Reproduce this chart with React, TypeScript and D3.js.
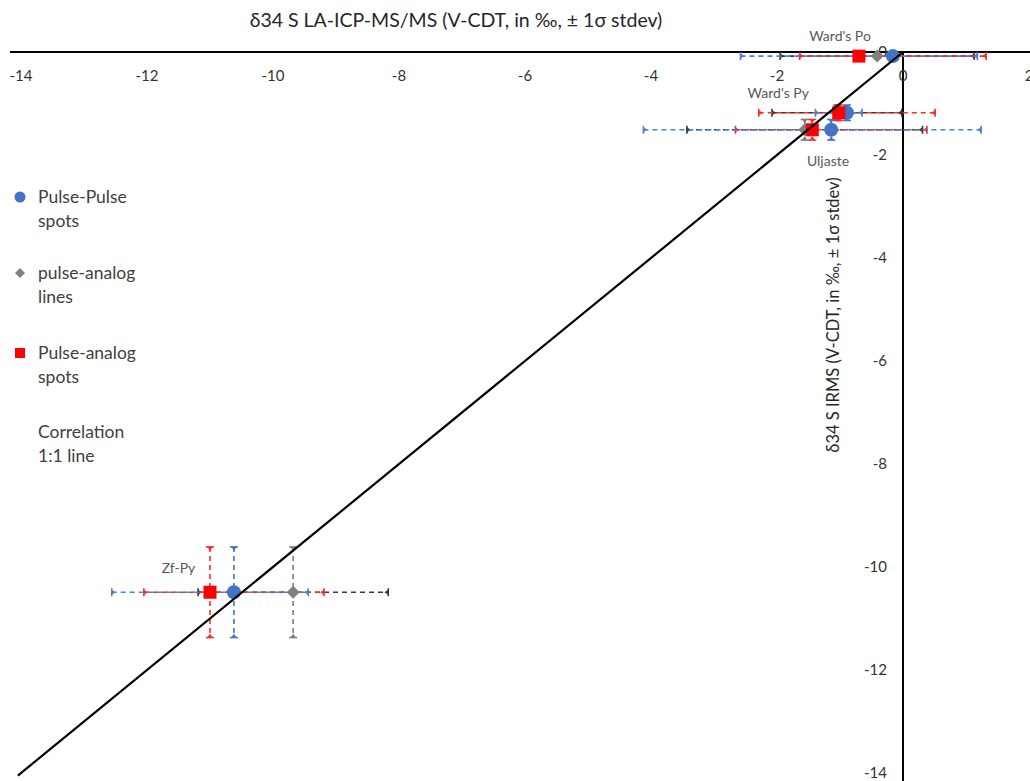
import React from "react";
import * as d3 from "d3";

const samples = ["Ward's Po", "Ward's Py", "Uljaste", "Zf-Py"];
const irms = [-0.08, -1.18, -1.51, -10.49];
const irmsErr = [0, 0.15, 0.2, 0.88];

const pulsePulseSpots = [-0.16, -0.89, -1.14, -10.62];
const pulsePulseErr = [1.48, 1.4, 1.52, 1.43];

const pulseAnalogLines = [-0.41, -1.05, -1.56, -9.68];
const pulseAnalogLinesErr = [1.54, 1.03, 1.87, 1.51];

const pulseAnalogSpots = [-0.7, -1.02, -1.44, -11.0];
const pulseAnalogSpotsErr = [1.88, 0.37, 2.68, 1.56];

const xTicks = [-14, -12, -10, -8, -6, -4, -2, 0, 2];
const yTicks = [-2, -4, -6, -8, -10, -12, -14];

// sample label anchors (data units)
const labelX = [-1.0, -1.98, -1.19, -11.5];
const labelY = [0.22, -0.89, -2.22, -10.12];

const W = 1030;
const H = 781;
const FONT = "Lato, 'Open Sans', sans-serif";

export default function App() {
  const x = d3.scaleLinear().domain([-14, 2]).range([21, 1029]);
  const y = d3.scaleLinear().domain([0, -14]).range([52, 773]);

  const series = [
    { name: "pulse-analog lines", vals: pulseAnalogLines, err: pulseAnalogLinesErr, errColor: "#3a3a3a", vColor: "#7f7f7f", shape: "diamond", color: "#808080" },
    { name: "Pulse-Pulse spots", vals: pulsePulseSpots, err: pulsePulseErr, errColor: "#ff2a2a", vColor: "#4472c4", shape: "circle", color: "#4472c4" },
    { name: "Pulse-analog spots", vals: pulseAnalogSpots, err: pulseAnalogSpotsErr, errColor: "#4f7fd0", vColor: "#ff2a2a", shape: "square", color: "#ff0000" },
  ];

  const cap = 4;
  const errBars: React.ReactNode[] = [];
  series.forEach((s, si) => {
    s.vals.forEach((v, i) => {
      const cy = y(irms[i]);
      const x0 = x(v - s.err[i]);
      const x1 = x(v + s.err[i]);
      errBars.push(
        <g key={`h${si}-${i}`} stroke={s.errColor} strokeWidth={1.6} fill={s.errColor}>
          <line x1={x0} x2={x1} y1={cy} y2={cy} strokeDasharray="5,4" />
          <line x1={x0} x2={x0} y1={cy - cap} y2={cy + cap} />
          <line x1={x1} x2={x1} y1={cy - cap} y2={cy + cap} />
          <path d={`M${x0},${cy - 2.5}L${x0 + 4},${cy}L${x0},${cy + 2.5}Z`} stroke="none" />
          <path d={`M${x1},${cy - 2.5}L${x1 - 4},${cy}L${x1},${cy + 2.5}Z`} stroke="none" />
        </g>
      );
      if (irmsErr[i] > 0) {
        const cx = x(v);
        const y0 = y(irms[i] + irmsErr[i]);
        const y1 = y(irms[i] - irmsErr[i]);
        errBars.push(
          <g key={`v${si}-${i}`} stroke={s.vColor} strokeWidth={1.6} fill={s.vColor}>
            <line x1={cx} x2={cx} y1={y0} y2={y1} strokeDasharray="5,4" />
            <line x1={cx - cap} x2={cx + cap} y1={y0} y2={y0} />
            <line x1={cx - cap} x2={cx + cap} y1={y1} y2={y1} />
            <path d={`M${cx - 2.5},${y0}L${cx},${y0 + 4}L${cx + 2.5},${y0}Z`} stroke="none" />
            <path d={`M${cx - 2.5},${y1}L${cx},${y1 - 4}L${cx + 2.5},${y1}Z`} stroke="none" />
          </g>
        );
      }
    });
  });

  const marker = (shape: string, color: string, cx: number, cy: number, size: number, key: string) => {
    if (shape === "circle") return <circle key={key} cx={cx} cy={cy} r={size / 2} fill={color} />;
    if (shape === "square")
      return <rect key={key} x={cx - size / 2} y={cy - size / 2} width={size} height={size} fill={color} />;
    const h = size / 2;
    return <path key={key} d={`M${cx},${cy - h}L${cx + h},${cy}L${cx},${cy + h}L${cx - h},${cy}Z`} fill={color} />;
  };

  const markers: React.ReactNode[] = [];
  series.forEach((s, si) => {
    s.vals.forEach((v, i) => {
      const size = s.shape === "circle" ? 14 : 13;
      markers.push(marker(s.shape, s.color, x(v), y(irms[i]), size, `m${si}-${i}`));
    });
  });

  const lineGen = d3.line<number>().x((d) => x(d)).y((d) => y(d));

  const legend = [
    { shape: "circle", color: "#4472c4", l1: "Pulse-Pulse", l2: "spots", y: 197 },
    { shape: "diamond", color: "#808080", l1: "pulse-analog", l2: "lines", y: 273 },
    { shape: "square", color: "#ff0000", l1: "Pulse-analog", l2: "spots", y: 353 },
    { shape: "none", color: "", l1: "Correlation", l2: "1:1 line", y: 432 },
  ];

  return (
    <svg width={W} height={H} style={{ position: "absolute", left: 0, top: 0, background: "#fff" }} fontFamily={FONT}>
      <rect width={W} height={H} fill="#fff" />
      <text x={456} y={27} fontSize={19.5} textAnchor="middle" fill="#262626">
        δ34 S LA-ICP-MS/MS (V-CDT, in ‰, ± 1σ stdev)
      </text>
      <text transform={`translate(839,315) rotate(-90)`} fontSize={16.5} textAnchor="middle" fill="#262626">
        δ34 S IRMS (V-CDT, in ‰, ± 1σ stdev)
      </text>

      {/* axes */}
      <line x1={10} x2={W} y1={y(0)} y2={y(0)} stroke="#000" strokeWidth={2} />
      <line x1={x(0)} x2={x(0)} y1={y(0)} y2={H} stroke="#000" strokeWidth={2} />
      {xTicks.map((t) => (
        <text key={`xt${t}`} x={x(t)} y={y(0) + 29} fontSize={15} textAnchor="middle" fill="#333">
          {t}
        </text>
      ))}
      <text x={x(0) - 16} y={y(0)} dy="0.35em" fontSize={15} textAnchor="end" fill="#333">0</text>
      {yTicks.map((t) => (
        <text key={`yt${t}`} x={x(0) - 16} y={y(t)} dy="0.35em" fontSize={15} textAnchor="end" fill="#333">
          {t}
        </text>
      ))}

      {errBars}
      {markers}
      <path d={lineGen([0, -14.05]) || ""} stroke="#000" strokeWidth={2.2} fill="none" />

      {samples.map((s, i) => (
        <text key={s} x={x(labelX[i])} y={y(labelY[i])} fontSize={14} textAnchor="middle" fill="#595959">
          {s}
        </text>
      ))}

      {legend.map((l, i) => (
        <g key={`lg${i}`}>
          {l.shape !== "none" && marker(l.shape, l.color, 20, l.y, l.shape === "circle" ? 11 : 10, `lm${i}`)}
          <text x={38} y={l.y} dy="0.35em" fontSize={17.5} fill="#404040">{l.l1}</text>
          <text x={38} y={l.y + 24} dy="0.35em" fontSize={17.5} fill="#404040">{l.l2}</text>
        </g>
      ))}
    </svg>
  );
}
